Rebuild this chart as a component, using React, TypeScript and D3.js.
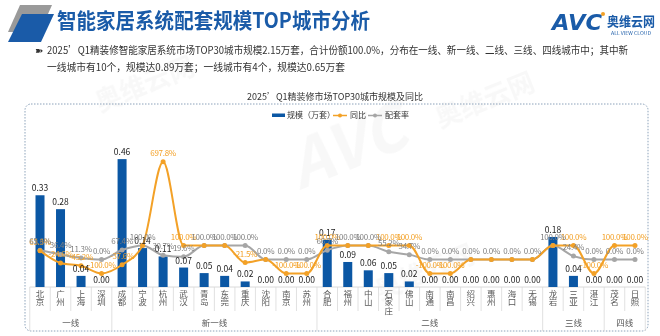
import React from 'react';
import * as d3 from 'd3';

const cities = ['北京','广州','上海','深圳','成都','宁波','杭州','武汉','青岛','东莞','重庆','沈阳','南京','苏州','合肥','福州','中山','石家庄','佛山','南通','南昌','绍兴','惠州','海口','无锡','龙岩','三亚','湛江','茂名','日照'];
const cityTier = ['一线','一线','一线','一线','新一线','新一线','新一线','新一线','新一线','新一线','新一线','新一线','新一线','新一线','二线','二线','二线','二线','二线','二线','二线','二线','二线','二线','二线','三线','三线','三线','四线','四线'];
const tierNames = ['一线','新一线','二线','三线','四线'];
const scaleValues = [0.33,0.28,0.04,0.00,0.46,0.14,0.11,0.07,0.05,0.04,0.02,0.00,0.00,0.00,0.17,0.09,0.06,0.05,0.02,0.00,0.00,0.00,0.00,0.00,0.00,0.18,0.04,0.00,0.00,0.00];
const yoyValues = [63.3,-24.6,-45.2,-100,-37.6,100,697.8,100,100,100,-21.5,0,-100,-100,100,100,100,100,100,-100,-100,0,0,0,0,100,100,-100,100,100];
const rateValues = [65.6,36.4,11.3,0,67.4,100,30.7,19.6,100,100,100,0,0,0,66.7,100,100,55.2,34.7,0,0,0,0,0,0,100,24.4,0,0,0];

const titleText = '智能家居系统配套规模TOP城市分析';
const bulletLine1 = '2025’Q1精装修智能家居系统市场TOP30城市规模2.15万套，合计份额100.0%，分布在一线、新一线、二线、三线、四线城市中；其中新';
const bulletLine2 = '一线城市有10个，规模达0.89万套；一线城市有4个，规模达0.65万套';
const chartTitle = '2025’Q1精装修市场TOP30城市规模及同比';
const legendLabels = ['规模（万套）', '同比', '配套率'];

const FONT = '"Noto Sans CJK SC", "Noto Sans", sans-serif';
const BLUE = '#0b57a4';
const ORANGE = '#f3a127';
const GRAY = '#a6a6a6';

export default function App() {
  const x = d3.scaleBand<string>().domain(cities).range([29.75, 645.25]).padding(0);
  const cx = (i: number) => (x(cities[i]) as number) + x.bandwidth() / 2;
  const yBar = d3.scaleLinear().domain([0, 0.5]).range([287, 148]);
  const yPct = d3.scaleLinear().domain([0, 100]).range([259.5, 245.5]);
  const barW = 9;

  const lineGen = d3.line<number>()
    .x((_, i) => cx(i))
    .y(d => yPct(d))
    .curve(d3.curveMonotoneX);

  const fmtPct = (v: number) => `${v.toFixed(1)}%`;

  const tierRanges = tierNames.map(t => {
    const idx = cityTier.map((c, i) => (c === t ? i : -1)).filter(i => i >= 0);
    return { name: t, first: idx[0], last: idx[idx.length - 1] };
  });
  const groupBoundaries = new Set<number>();
  tierRanges.forEach(r => { groupBoundaries.add(r.first); groupBoundaries.add(r.last + 1); });

  const [x0, x1] = x.range();

  return (
    <svg width={660} height={336} style={{ position: 'absolute', left: 0, top: 0, background: '#fff' }} fontFamily={FONT}>
      {/* watermarks */}
      <g opacity={0.06} fill="#8a8a8a">
        <text x={300} y={190} fontSize={64} fontWeight={700} fontStyle="italic" transform="rotate(-22 300 190)">AVC</text>
        <text x={440} y={128} fontSize={26} fontWeight={700} transform="rotate(-22 440 128)">奥维云网</text>
        <text x={100} y={112} fontSize={26} fontWeight={700} transform="rotate(-22 100 112)">奥维云网</text>
        <text x={380} y={300} fontSize={26} fontWeight={700} transform="rotate(-22 380 300)">奥维云网</text>
      </g>

      {/* header decoration */}
      <polygon points="20,5 52,5 40,32 8,32" fill="#9a9a9a" />
      <polygon points="22,14 54,14 41,42 8,42" fill="#1a5ba8" />
      <text x={57} y={28} fontSize={21} fontWeight={700} fill="#1a5ba8" textLength={313} lengthAdjust="spacingAndGlyphs">{titleText}</text>

      {/* logo */}
      <text x={552} y={30} fontSize={22} fontWeight={900} fontStyle="italic" fill="#1a5ba8" fontFamily="DejaVu Sans, sans-serif" textLength={50} lengthAdjust="spacingAndGlyphs">AVC</text>
      <circle cx={603} cy={14} r={2} fill="#f3a127" />
      <text x={607} y={26} fontSize={13} fontWeight={700} fill="#1a5ba8" textLength={48} lengthAdjust="spacingAndGlyphs">奥维云网</text>
      <text x={611} y={35} fontSize={4.5} fill="#1a5ba8" textLength={40} lengthAdjust="spacingAndGlyphs">ALL VIEW CLOUD</text>

      {/* bullet text */}
      <text x={35} y={54} fontSize={10} fill="#333">➽</text>
      <text x={47} y={54} fontSize={10.5} fill="#333" textLength={581} lengthAdjust="spacingAndGlyphs">{bulletLine1}</text>
      <text x={47} y={71} fontSize={10.5} fill="#333" textLength={298} lengthAdjust="spacingAndGlyphs">{bulletLine2}</text>

      {/* chart title */}
      <text x={335} y={100} fontSize={9} fill="#333" textAnchor="middle">{chartTitle}</text>

      {/* dashed box */}
      <rect x={25} y={104} width={623} height={227} rx={6} fill="none" stroke="#6f8ca8" strokeWidth={0.8} strokeDasharray="1.5,1.5" />

      {/* legend */}
      <g fontSize={8} fill="#333">
        <rect x={272} y={113.5} width={13} height={3.5} fill={BLUE} />
        <text x={287} y={118}>{legendLabels[0]}</text>
        <line x1={333} x2={347} y1={115.5} y2={115.5} stroke={ORANGE} strokeWidth={1.5} />
        <circle cx={340} cy={115.5} r={2} fill={ORANGE} />
        <text x={350} y={118}>{legendLabels[1]}</text>
        <line x1={368} x2={382} y1={115.5} y2={115.5} stroke={GRAY} strokeWidth={1.5} />
        <circle cx={375} cy={115.5} r={2} fill={GRAY} />
        <text x={385} y={118}>{legendLabels[2]}</text>
      </g>

      {/* baseline and category separators */}
      <line x1={x0} x2={x1} y1={287} y2={287} stroke="#d0d0d0" strokeWidth={0.8} />
      {d3.range(cities.length + 1).map(i => {
        const xx = x0 + i * x.step();
        const long = groupBoundaries.has(i);
        return <line key={'sep' + i} x1={xx} x2={xx} y1={287} y2={long ? 331 : 311} stroke="#d9d9d9" strokeWidth={0.8} />;
      })}

      {/* bars */}
      {scaleValues.map((v, i) => (
        <rect key={'b' + i} x={cx(i) - barW / 2} y={yBar(v)} width={barW} height={287 - yBar(v)} fill={BLUE} />
      ))}

      {/* lines */}
      <path d={lineGen(rateValues) || ''} fill="none" stroke={GRAY} strokeWidth={2} />
      <path d={lineGen(yoyValues) || ''} fill="none" stroke={ORANGE} strokeWidth={2} />
      {rateValues.map((v, i) => <circle key={'rc' + i} cx={cx(i)} cy={yPct(v)} r={2.5} fill={GRAY} />)}
      {yoyValues.map((v, i) => <circle key={'oc' + i} cx={cx(i)} cy={yPct(v)} r={2.5} fill={ORANGE} />)}

      {/* bar labels */}
      {scaleValues.map((v, i) => (
        <text key={'bl' + i} x={cx(i)} y={yBar(v) - 4} fontSize={8.5} fill="#222" textAnchor="middle">{v.toFixed(2)}</text>
      ))}

      {/* percentage labels (identical coinciding labels drawn once) */}
      {yoyValues.map((v, i) => (v === rateValues[i] ? null : (
        <text key={'ol' + i} x={cx(i)} y={yPct(v) - 6} fontSize={8} fill={ORANGE} textAnchor="middle" letterSpacing={-0.3}>{fmtPct(v)}</text>
      )))}
      {rateValues.map((v, i) => (
        <text key={'rl' + i} x={cx(i)} y={yPct(v) - 6} fontSize={8} fill="#7f7f7f" textAnchor="middle" letterSpacing={-0.3}>{fmtPct(v)}</text>
      ))}

      {/* category labels (vertical) */}
      {cities.map((c, i) => (
        <text key={'c' + i} fontSize={8.5} fill="#595959" textAnchor="middle">
          {Array.from(c).map((ch, j) => (
            <tspan key={j} x={cx(i)} y={296.5 + j * 8.7}>{ch}</tspan>
          ))}
        </text>
      ))}

      {/* tier labels */}
      {tierRanges.map(r => (
        <text key={r.name} x={(cx(r.first) + cx(r.last)) / 2} y={326} fontSize={8.5} fill="#595959" textAnchor="middle">{r.name}</text>
      ))}
    </svg>
  );
}
